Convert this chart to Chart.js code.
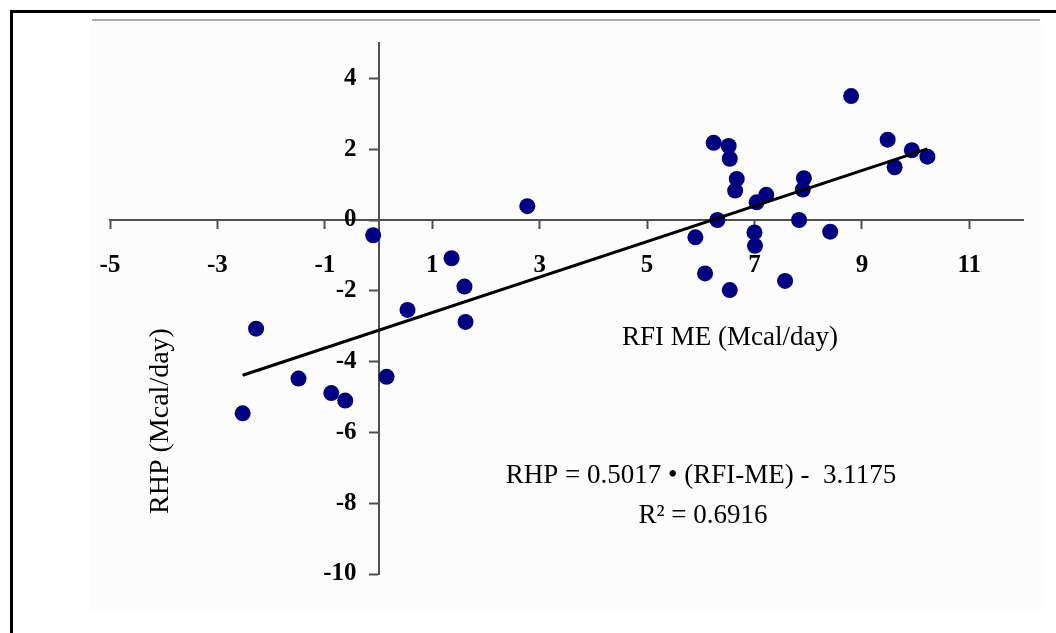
<!DOCTYPE html>
<html>
<head>
<meta charset="utf-8">
<script src="https://cdn.jsdelivr.net/npm/chart.js@4/dist/chart.umd.min.js"></script>
<style>
    body { margin: 0; background: #fff; overflow: hidden; }
    #bingkai { position: absolute; left: 10px; top: 10px; width: 1100px; height: 700px; border-top: 3px solid #000; border-left: 3px solid #000; }
    #garis { position: absolute; left: 92px; top: 19px; width: 948px; height: 2px; background: #ababab; }
    #latar { position: absolute; left: 90px; top: 22px; width: 952px; height: 588px; background: #fcfcfc; }
    #rhpChart { position: absolute; left: 0; top: 0; }
</style>
</head>
<body>
<div id="bingkai"></div>
<div id="garis"></div>
<div id="latar"></div>
<canvas id="rhpChart" width="1056" height="633"></canvas>
<script>
// Data RFI ME (sumbu x) dan RHP (sumbu y), Mcal/hari
const rfiMe = [-2.53, -2.28, -1.49, -0.88, -0.62, -0.10, 0.15, 0.54, 1.36, 1.60, 1.62, 2.77,
    5.90, 6.08, 6.24, 6.31, 6.52, 6.54, 6.54, 6.67, 6.64, 7.00, 7.01, 7.04, 7.22, 7.57,
    7.83, 7.90, 7.92, 8.41, 8.80, 9.48, 9.61, 9.93, 10.22];
const rhp = [-5.46, -3.07, -4.48, -4.89, -5.10, -0.43, -4.43, -2.54, -1.08, -1.88, -2.88, 0.39,
    -0.49, -1.51, 2.18, 0.00, 2.09, 1.73, -1.98, 1.16, 0.83, -0.35, -0.73, 0.50, 0.71, -1.72,
    0.00, 0.86, 1.18, -0.33, 3.50, 2.27, 1.49, 1.97, 1.79];

// Label sumbu
const xTicks = [-5, -3, -1, 1, 3, 5, 7, 9, 11];
const yTicks = [-10, -8, -6, -4, -2, 0, 2, 4];

// Persamaan regresi
const slope = 0.5017;
const intercept = -3.1175;
const r2 = 0.6916;

const points = rfiMe.map((x, i) => ({ x: x, y: rhp[i] }));
const xMin = Math.min(...rfiMe);
const xMax = Math.max(...rfiMe);
const trendLine = [
    { x: xMin, y: slope * xMin + intercept },
    { x: xMax, y: slope * xMax + intercept },
];

const tickFont = { family: 'Liberation Serif', size: 25, weight: 'bold' };

// Label sumbu y (posisi di x = 0) digeser ke kiri supaya tidak menempel garis sumbu
const geserLabelY = {
    id: 'geserLabelY',
    beforeDraw(chart) {
        const items = chart.scales.y.getLabelItems();
        if (items._geser) return;
        items.forEach(item => { item.options.translation[0] -= 22; });
        items._geser = true;
    }
};

// Teks judul sumbu dan persamaan
const textPlugin = {
    id: 'teksGrafik',
    afterDraw(chart) {
        const ctx = chart.ctx;
        ctx.save();
        ctx.fillStyle = '#000';
        ctx.textAlign = 'center';
        ctx.textBaseline = 'alphabetic';

        ctx.font = '27px "Liberation Serif"';
        ctx.fillText('RFI ME (Mcal/day)', 730, 345);
        ctx.fillText('RHP = 0.5017 \u2022 (RFI-ME) -  3.1175', 701, 483);
        ctx.fillText('R\u00b2 = ' + r2, 703, 523);

        ctx.font = '28px "Liberation Serif"';
        ctx.translate(168, 421);
        ctx.rotate(-Math.PI / 2);
        ctx.fillText('RHP (Mcal/day)', 0, 0);
        ctx.restore();
    }
};

const ctx = document.getElementById('rhpChart').getContext('2d');
let rhpChart = new Chart(ctx, {
    type: 'scatter',
    data: {
        datasets: [{
            type: 'line',
            data: trendLine,
            borderColor: '#000',
            borderWidth: 3,
            pointRadius: 0,
            fill: false,
        }, {
            data: points,
            pointRadius: 8,
            pointBackgroundColor: '#000080',
            pointBorderColor: '#000080',
            pointBorderWidth: 0,
        }],
    },
    options: {
        responsive: false,
        animation: false,
        devicePixelRatio: 1,
        layout: { padding: { left: 110, right: 33, top: 43, bottom: 59 } },
        plugins: { legend: { display: false }, tooltip: { enabled: false } },
        scales: {
            x: {
                type: 'linear',
                min: -5,
                max: 12,
                position: { y: 0 },
                afterBuildTicks: s => { s.ticks = xTicks.map(v => ({ value: v })); },
                afterFit: s => { s.height = 0; },
                border: { color: '#505050', width: 2 },
                grid: { drawOnChartArea: false, tickLength: 8, tickColor: '#505050', tickWidth: 2 },
                ticks: { autoSkip: false, maxRotation: 0, padding: 23, color: '#000', font: tickFont },
            },
            y: {
                type: 'linear',
                min: -10,
                max: 5,
                position: { x: 0 },
                afterBuildTicks: s => { s.ticks = yTicks.map(v => ({ value: v })); },
                afterFit: s => { s.width = 0; },
                border: { color: '#505050', width: 2 },
                grid: { drawOnChartArea: false, tickLength: 9, tickColor: '#505050', tickWidth: 2 },
                ticks: { autoSkip: false, color: '#000', font: tickFont },
            },
        },
    },
    plugins: [geserLabelY, textPlugin],
});
</script>
</body>
</html>
